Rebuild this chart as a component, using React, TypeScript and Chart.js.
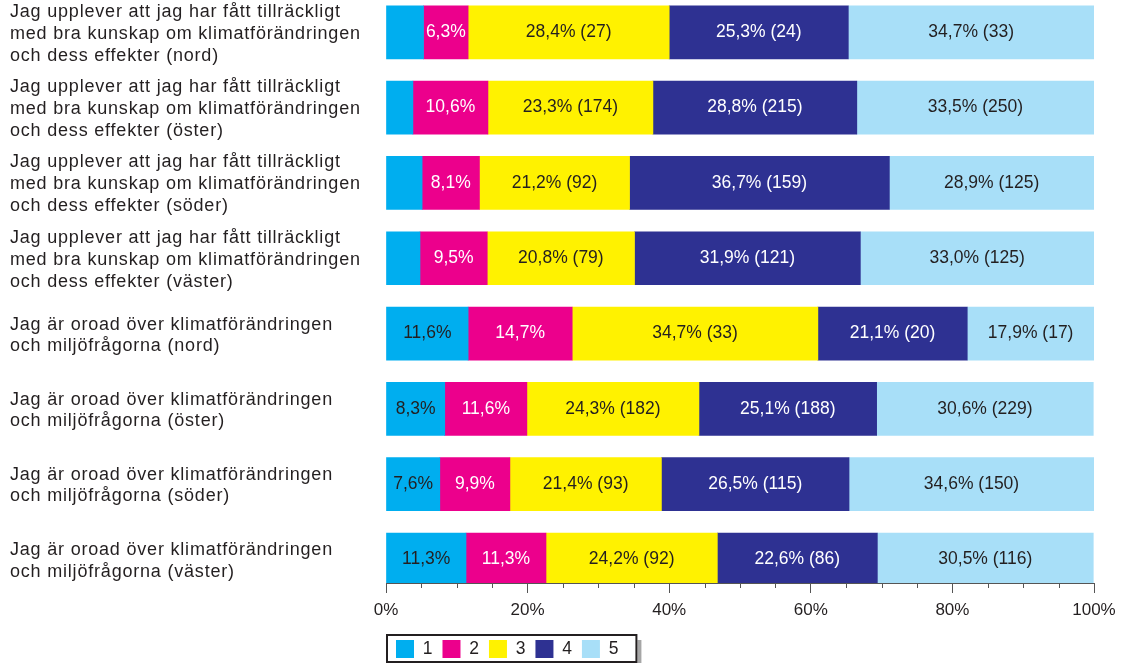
import React, { useEffect, useRef } from 'react';
import { Chart, registerables } from 'chart.js';

Chart.register(...registerables);

// ---- Data ----
const categories: string[][] = [
  ['Jag upplever att jag har fått tillräckligt', 'med bra kunskap om klimatförändringen', 'och dess effekter (nord)'],
  ['Jag upplever att jag har fått tillräckligt', 'med bra kunskap om klimatförändringen', 'och dess effekter (öster)'],
  ['Jag upplever att jag har fått tillräckligt', 'med bra kunskap om klimatförändringen', 'och dess effekter (söder)'],
  ['Jag upplever att jag har fått tillräckligt', 'med bra kunskap om klimatförändringen', 'och dess effekter (väster)'],
  ['Jag är oroad över klimatförändringen', 'och miljöfrågorna (nord)'],
  ['Jag är oroad över klimatförändringen', 'och miljöfrågorna (öster)'],
  ['Jag är oroad över klimatförändringen', 'och miljöfrågorna (söder)'],
  ['Jag är oroad över klimatförändringen', 'och miljöfrågorna (väster)'],
];

const seriesNames = ['1', '2', '3', '4', '5'];

const series1 = [5.3, 3.8, 5.1, 4.8, 11.6, 8.3, 7.6, 11.3];
const series2 = [6.3, 10.6, 8.1, 9.5, 14.7, 11.6, 9.9, 11.3];
const series3 = [28.4, 23.3, 21.2, 20.8, 34.7, 24.3, 21.4, 24.2];
const series4 = [25.3, 28.8, 36.7, 31.9, 21.1, 25.1, 26.5, 22.6];
const series5 = [34.7, 33.5, 28.9, 33.0, 17.9, 30.6, 34.6, 30.5];

const counts3 = [27, 174, 92, 79, 33, 182, 93, 92];
const counts4 = [24, 215, 159, 121, 20, 188, 115, 86];
const counts5 = [33, 250, 125, 125, 17, 229, 150, 116];

const xTickLabels = ['0%', '20%', '40%', '60%', '80%', '100%'];

// ---- Styles ----
const COLORS = ['#00AEEF', '#EC008C', '#FFF200', '#2E3192', '#A8DFF8'];
const TEXT_COLORS = ['#231F20', '#FFFFFF', '#231F20', '#FFFFFF', '#231F20'];
const FONT = "'Liberation Sans', Arial, Helvetica, sans-serif";
const DARK = '#231F20';

export default function App() {
  const ref = useRef<HTMLCanvasElement>(null);

  useEffect(() => {
    if (!ref.current) return;
    const values = [series1, series2, series3, series4, series5];
    const counts: (number[] | null)[] = [null, null, counts3, counts4, counts5];

    const datasets = values.map((arr, d) => ({
      label: seriesNames[d],
      data: arr.map((v, i) => ({ x: v, y: i })),
      backgroundColor: COLORS[d],
      borderWidth: 0,
      barThickness: 53,
    }));

    const barLabels = {
      id: 'barLabels',
      afterDatasetsDraw(chart: any) {
        const ctx = chart.ctx;
        ctx.save();
        ctx.font = `17.5px ${FONT}`;
        ctx.textAlign = 'center';
        ctx.textBaseline = 'middle';
        values.forEach((arr, d) => {
          const meta = chart.getDatasetMeta(d);
          meta.data.forEach((el: any, i: number) => {
            const v = arr[i];
            if (v < 6) return;
            const c = counts[d];
            const text = v.toFixed(1).replace('.', ',') + '%' + (c ? ` (${c[i]})` : '');
            const p = el.getProps(['x', 'base', 'y'], true);
            ctx.fillStyle = TEXT_COLORS[d];
            ctx.fillText(text, (p.x + p.base) / 2, p.y);
          });
        });
        ctx.restore();
        // category labels (y ticks, z = 1) are drawn next, with a little tracking
        (ctx as any).letterSpacing = '0.8px';
      },
      afterDraw(chart: any) {
        (chart.ctx as any).letterSpacing = '0px';
      },
    };

    const minorTicks = {
      id: 'minorTicks',
      afterDraw(chart: any) {
        const xs = chart.scales.x;
        const ctx = chart.ctx;
        ctx.save();
        ctx.strokeStyle = '#555555';
        ctx.lineWidth = 1;
        for (let v = 5; v < 100; v += 5) {
          if (v % 20 === 0) continue;
          const px = Math.round(xs.getPixelForValue(v)) + 0.5;
          ctx.beginPath();
          ctx.moveTo(px, xs.top);
          ctx.lineTo(px, xs.top + 5);
          ctx.stroke();
        }
        ctx.restore();
      },
    };

    const legendBox = {
      id: 'legendBox',
      afterDraw(chart: any) {
        const lg = chart.legend;
        const hb = lg && lg.legendHitBoxes;
        if (!hb || !hb.length) return;
        const ctx = chart.ctx;
        const last = hb[hb.length - 1];
        const L = chart.chartArea.left;
        const R = last.left + last.width + 19;
        const T = hb[0].top - 6;
        const B = T + 29;
        ctx.save();
        ctx.fillStyle = '#A6A6A6';
        ctx.fillRect(R, T + 6, 4, B - T);
        ctx.strokeStyle = DARK;
        ctx.lineWidth = 2;
        ctx.strokeRect(L + 1, T + 1, R - L - 2, B - T - 2);
        ctx.restore();
      },
    };

    const chart = new Chart(ref.current, {
      type: 'bar',
      data: { datasets } as any,
      options: {
        indexAxis: 'y',
        animation: false,
        responsive: true,
        maintainAspectRatio: false,
        layout: { padding: { left: 10, right: 36, top: 0, bottom: 0 } },
        plugins: {
          tooltip: { enabled: false },
          legend: {
            position: 'bottom',
            align: 'start',
            fullSize: false,
            labels: {
              boxWidth: 18,
              boxHeight: 18,
              padding: 10,
              color: DARK,
              font: { size: 17.5, family: FONT },
            },
          },
        },
        scales: {
          x: {
            type: 'linear',
            min: 0,
            max: 100,
            stacked: true,
            grid: {
              drawOnChartArea: false,
              tickLength: 10,
              tickWidth: 1,
              tickColor: (c: any) => (c.tick && c.tick.value % 20 === 0 ? '#555555' : 'rgba(0,0,0,0)'),
            },
            border: { display: true, color: '#555555', width: 1 },
            ticks: {
              stepSize: 5,
              maxTicksLimit: 30,
              autoSkip: false,
              maxRotation: 0,
              padding: 7,
              color: DARK,
              font: { size: 17, family: FONT },
              callback: (v: any) => (Number(v) % 20 === 0 ? xTickLabels[Number(v) / 20] : ''),
            },
            afterFit: (scale: any) => {
              scale.height = 47;
            },
          },
          y: {
            type: 'linear',
            reverse: true,
            offset: false,
            min: -0.429,
            max: 7.312,
            stacked: true,
            grid: { display: false },
            border: { display: false },
            afterBuildTicks: (scale: any) => {
              scale.ticks = categories.map((_, i) => ({ value: i }));
            },
            afterFit: (scale: any) => {
              scale.width = 376;
              scale.paddingTop = 0;
              scale.paddingBottom = 0;
            },
            ticks: {
              z: 1,
              autoSkip: false,
              crossAlign: 'far',
              padding: 0,
              labelOffset: 1.5,
              color: DARK,
              font: (c: any) => {
                const i = c.tick ? Math.round(c.tick.value) : 0;
                const lines = categories[i] ? categories[i].length : 2;
                return { size: 18, family: FONT, lineHeight: lines > 2 ? 1.22 : 1.17 };
              },
              callback: (v: any) => {
                const i = Number(v);
                return Number.isInteger(i) && categories[i] ? categories[i] : '';
              },
            },
          },
        },
      } as any,
      plugins: [barLabels, minorTicks, legendBox],
    });

    return () => chart.destroy();
  }, []);

  return (
    <div style={{ position: 'fixed', left: 0, top: 0, width: 1130, height: 668, background: '#fff' }}>
      <canvas ref={ref} />
    </div>
  );
}
